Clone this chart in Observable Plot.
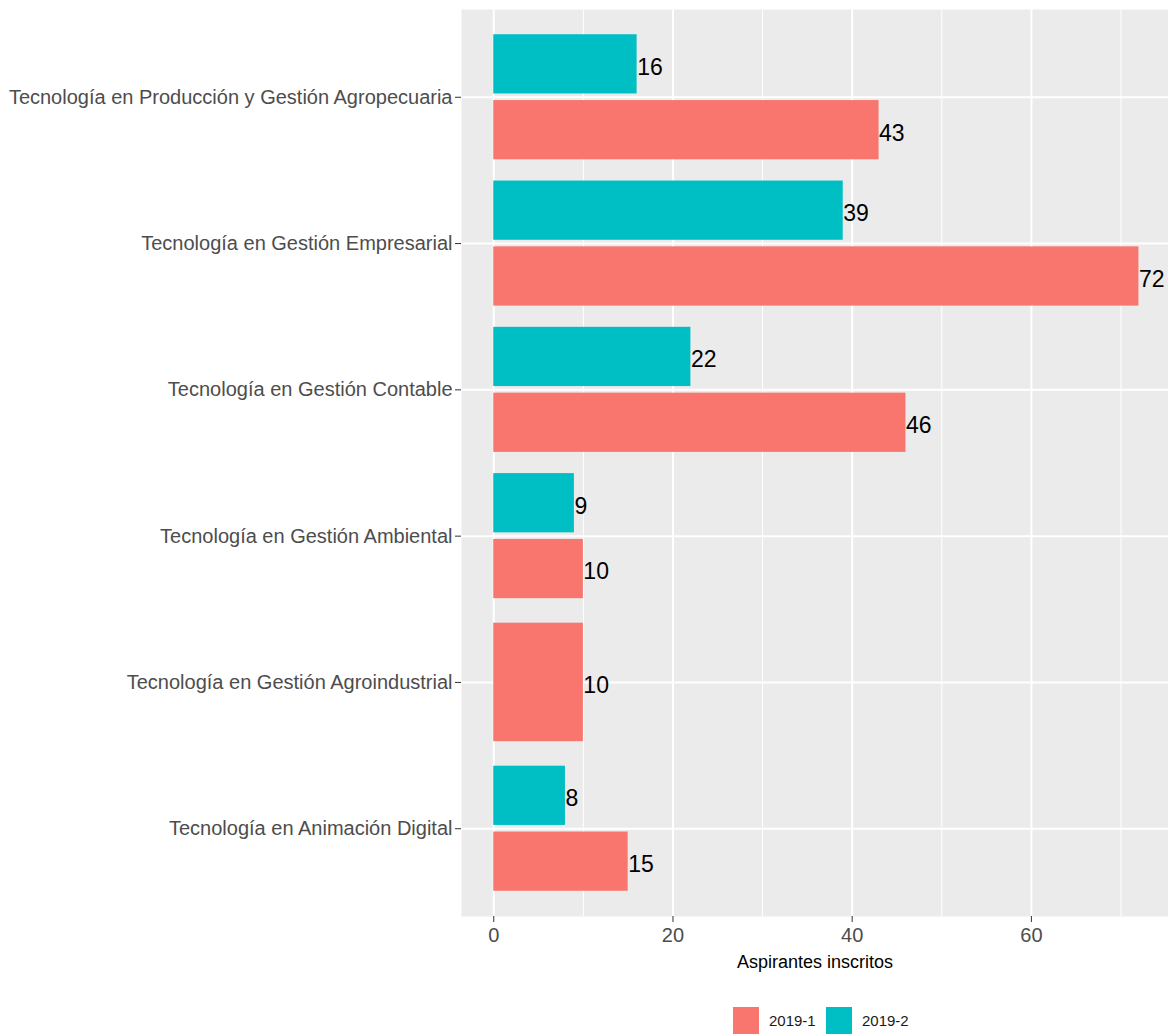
<!DOCTYPE html>
<html>
<head>
<meta charset="utf-8">
<script src="https://cdn.jsdelivr.net/npm/d3@7"></script>
<script src="https://cdn.jsdelivr.net/npm/@observablehq/plot@0.6"></script>
<style>
  html, body { margin: 0; padding: 0; background: #fff; overflow: hidden; }
  body { font-family: "Liberation Sans", Arial, sans-serif; }
  #legend { display: flex; align-items: center; height: 27px; margin-top: 17px; position: relative; }
  .item { position: absolute; display: flex; align-items: center; font-size: 15px; color: #1a1a1a; }
  .key { width: 26px; height: 27px; margin-right: 10px; }
</style>
</head>
<body>
<div id="chart"></div>
<div id="legend"></div>
<script>
// Categories listed top to bottom
const categories = [
  "Tecnología en Producción y Gestión Agropecuaria",
  "Tecnología en Gestión Empresarial",
  "Tecnología en Gestión Contable",
  "Tecnología en Gestión Ambiental",
  "Tecnología en Gestión Agroindustrial",
  "Tecnología en Animación Digital"
];
const series = ["2019-1", "2019-2"];
const colors = ["#F8766D", "#00BFC4"];
const values2019_1 = [43, 72, 46, 10, 10, 15];
const values2019_2 = [16, 39, 22, 9, null, 8];
const xTicks = [0, 20, 40, 60];
const xMinor = [10, 30, 50, 70];
const xTitle = "Aspirantes inscritos";

const valuesBySeries = [values2019_1, values2019_2];

// ggplot-like dodge (width 0.9, padding 0.1), dropping missing groups
const rows = categories.flatMap((c, i) => {
  const pos = categories.length - i;
  const present = series.map((s, k) => ({s, v: valuesBySeries[k][i]})).filter(d => d.v != null);
  const n = present.length;
  const w = 0.9 / n;
  return present.map((d, k) => {
    const center = pos - 0.45 + (k + 0.5) * w;
    const half = w * 0.9 / 2;
    return {cat: c, series: d.s, value: d.v, y1: center - half, y2: center + half, yc: center};
  });
});
const catPositions = categories.map((c, i) => categories.length - i);

const chart = Plot.plot({
  width: 1168,
  height: 990,
  marginTop: 9,
  marginBottom: 74,
  marginLeft: 461,
  marginRight: 0,
  style: {fontFamily: "'Liberation Sans', Arial, sans-serif", background: "#fff", overflow: "visible"},
  x: {domain: [-3.6, 75.3]},
  y: {domain: [0.4, 6.6]},
  color: {domain: series, range: colors},
  marks: [
    Plot.frame({fill: "#EBEBEB", stroke: null}),
    Plot.ruleX(xMinor, {stroke: "#fff", strokeWidth: 1}),
    Plot.ruleX(xTicks, {stroke: "#fff", strokeWidth: 2}),
    Plot.ruleY(catPositions, {stroke: "#fff", strokeWidth: 2}),
    Plot.rectX(rows, {x1: 0, x2: "value", y1: "y1", y2: "y2", fill: "series"}),
    Plot.text(rows, {x: "value", y: "yc", text: d => String(d.value), textAnchor: "start", dx: 0, dy: 3, fontSize: 23, fill: "#000"}),
    Plot.axisY({
      ticks: catPositions,
      tickFormat: p => categories[categories.length - p],
      tickSize: 6, tickPadding: 3, fontSize: 20, color: "#4D4D4D", stroke: "#333",
      label: null
    }),
    Plot.axisX({
      ticks: xTicks, tickFormat: d => String(d),
      tickSize: 6, tickPadding: 5, fontSize: 20, color: "#4D4D4D", stroke: "#333",
      label: null
    }),
    Plot.text([xTitle], {frameAnchor: "bottom", dy: 51, fontSize: 18, fill: "#000", text: d => d})
  ]
});
document.getElementById("chart").appendChild(chart);

const legend = document.getElementById("legend");
const lefts = [733, 826];
series.forEach((s, k) => {
  const item = document.createElement("div");
  item.className = "item";
  item.style.left = lefts[k] + "px";
  const key = document.createElement("div");
  key.className = "key";
  key.style.background = colors[k];
  const label = document.createElement("span");
  label.textContent = s;
  item.appendChild(key);
  item.appendChild(label);
  legend.appendChild(item);
});
</script>
</body>
</html>
